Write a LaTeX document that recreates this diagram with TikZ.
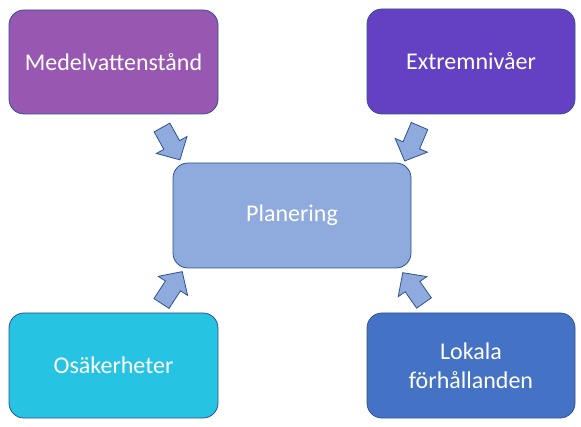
\documentclass[tikz,border=0pt]{standalone}
\usepackage{fontspec}
\setmainfont{Carlito}
\definecolor{cTL}{RGB}{152,87,176}
\definecolor{cTR}{RGB}{100,65,195}
\definecolor{cMid}{RGB}{143,170,220}
\definecolor{cBL}{RGB}{38,195,226}
\definecolor{cBR}{RGB}{68,114,196}
\definecolor{cLine}{RGB}{47,82,143}
\newcommand\blockarrow[3]{% tail centre, angle, length
  \draw[arrowshape, shift={#1}, rotate=#2]
    (0,-9) -- (#3-17,-9) -- (#3-17,-17.5) -- (#3,0) -- (#3-17,17.5) -- (#3-17,9) -- (0,9) -- cycle;}
\begin{document}
\begin{tikzpicture}[x=1pt,y=1pt,
  box/.style={draw=cLine, line width=0.8pt, rounded corners=15pt, text=white,
    font=\fontsize{24}{29}\selectfont, align=center, inner sep=0pt},
  arrowshape/.style={draw=cLine, line width=0.8pt, fill=cMid, line join=miter}]
\useasboundingbox (0,0) rectangle (581,426);
\node[box, fill=cTL, minimum width=209pt, minimum height=104pt] (tl) at (113.5,364) {Medelvattenstånd};
\node[box, fill=cTR, minimum width=208pt, minimum height=105pt] (tr) at (471,364.5) {Extremnivåer};
\node[box, fill=cMid, minimum width=238pt, minimum height=105pt] (mid) at (292,210.5) {Planering};
\node[box, fill=cBL, minimum width=209pt, minimum height=105pt] (bl) at (113.5,60.5) {Osäkerheter};
\node[box, fill=cBR, minimum width=208pt, minimum height=105pt] (br) at (471,60.5) {Lokala\\förhållanden};
\blockarrow{(162,298.5)}{-61}{37}
\blockarrow{(419.5,300)}{-113}{38}
\blockarrow{(161.5,122.5)}{57}{38}
\blockarrow{(424,123)}{125}{37}
\end{tikzpicture}
\end{document}
